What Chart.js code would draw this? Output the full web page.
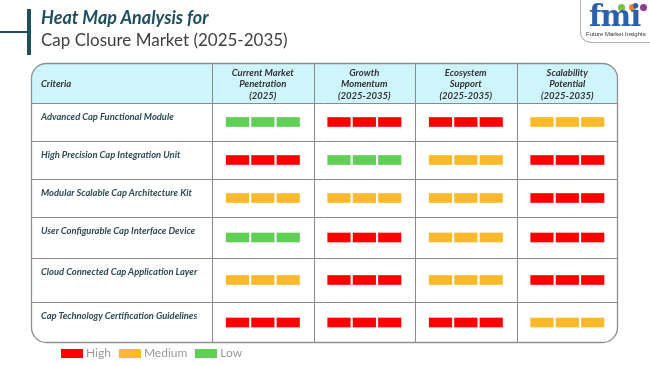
<!DOCTYPE html>
<html>
<head>
<meta charset="utf-8">
<script src="https://cdn.jsdelivr.net/npm/chart.js@4.4.1/dist/chart.umd.min.js"></script>
<style>
  html, body { margin: 0; padding: 0; background: #fff; }
  #wrap { position: relative; width: 650px; height: 365px; overflow: hidden; font-family: Lato, "Open Sans", sans-serif; }
  canvas { position: absolute; left: 0; top: 0; }
  .abs { position: absolute; white-space: nowrap; }
  #t1 { left: 41px; top: 6px; font-size: 18px; font-weight: 700; font-style: italic; color: #1e4f5f; }
  #t2 { left: 41px; top: 29px; font-size: 17px; color: #404040; }
  #vbar { left: 27px; top: 9px; width: 4px; height: 46px; background: #1e4f5f; }
  #hbar { left: 0; top: 31px; width: 28px; height: 2px; background: #1e4f5f; }
  #logo { right: 0; top: 0; width: 69px; height: 42px; border-left: 1px solid #b5b5b5; border-bottom: 1px solid #b5b5b5; border-bottom-left-radius: 11px; }
  #fmi { left: 8px; top: -1px; font-family: "DejaVu Serif", serif; font-weight: 700; font-size: 29px; color: #2b5fab; letter-spacing: -1px; }
  #fmisub { left: 5px; top: 31px; font-size: 6px; color: #333; font-family: "Liberation Sans", sans-serif; }
  .dot { position: absolute; width: 7px; height: 7px; border-radius: 50%; }
  .hdr { text-align: center; font-size: 9.5px; font-style: italic; font-weight: 700; color: #333; line-height: 11.5px; }
  .crit { font-size: 9.5px; font-style: italic; font-weight: 700; color: #333; }
  .row { font-size: 9.4px; font-style: italic; font-weight: 700; color: #2d4b54; }
  #legend { left: 61px; top: 345px; font-size: 12px; color: #999; }
  #legend span.item { display: inline-block; margin-right: 8px; }
  #legend span.box { display: inline-block; width: 22px; height: 9px; vertical-align: -1px; margin-right: 3px; }
</style>
</head>
<body>
<div id="wrap">
  <canvas id="c" width="650" height="365"></canvas>
  <div class="abs" id="hbar"></div>
  <div class="abs" id="vbar"></div>
  <div class="abs" id="t1">Heat Map Analysis for</div>
  <div class="abs" id="t2">Cap Closure Market (2025-2035)</div>
  <div class="abs" id="logo">
    <div class="dot" style="left:37px;top:4px;background:#7ac143"></div>
    <div class="dot" style="left:48px;top:4px;background:#f58220"></div>
    <div class="dot" style="left:59px;top:4px;background:#8e3a96"></div>
    <div class="abs" id="fmi">fmi</div>
    <div class="abs" id="fmisub">Future Market Insights</div>
  </div>
  <div class="abs" id="legend"></div>
</div>
<script>
// ---------------- data ----------------
const criteriaHeader = "Criteria";
const columnHeaders = [
  ["Current Market", "Penetration", "(2025)"],
  ["Growth", "Momentum", "(2025-2035)"],
  ["Ecosystem", "Support", "(2025-2035)"],
  ["Scalability", "Potential", "(2025-2035)"]
];
const criteria = [
  "Advanced Cap Functional Module",
  "High Precision Cap Integration Unit",
  "Modular Scalable Cap Architecture Kit",
  "User Configurable Cap Interface Device",
  "Cloud Connected Cap Application Layer",
  "Cap Technology Certification Guidelines"
];
const levels = ["High", "Medium", "Low"];
const currentMarketPenetration = ["Low", "High", "Medium", "Low", "Medium", "High"];
const growthMomentum          = ["High", "Low", "Medium", "High", "High", "High"];
const ecosystemSupport        = ["High", "Medium", "Medium", "Medium", "Medium", "High"];
const scalabilityPotential    = ["Medium", "High", "High", "High", "High", "Medium"];
const columns = [currentMarketPenetration, growthMomentum, ecosystemSupport, scalabilityPotential];

// ---------------- style / layout ----------------
const levelColors = { High: "#fe0000", Medium: "#fbb92c", Low: "#5fcf55" };
const rowHeights = [38, 38, 38, 41, 44, 41];   // layout (y units = px)
const HEADER_H = 40;
const CRIT_W = 181 / 101.5;                     // criteria column width in column units
const SEG_START = 0.14, SEG_STEP = 0.25, SEG_W = 0.222, SEGMENTS = 3;

const rowTops = [];
let acc = 0;
rowHeights.forEach(h => { rowTops.push(acc); acc += h; });
const TOTAL_H = acc;
const rowCenters = rowHeights.map((h, i) => rowTops[i] + h / 2);

const datasets = levels.map(level => {
  const data = [];
  columns.forEach((col, c) => {
    col.forEach((v, r) => {
      if (v !== level) return;
      for (let s = 0; s < SEGMENTS; s++) {
        const x0 = c + SEG_START + s * SEG_STEP;
        data.push({ x: [x0, x0 + SEG_W], y: rowCenters[r] });
      }
    });
  });
  return { label: level, data, backgroundColor: levelColors[level], borderWidth: 0, borderSkipped: false };
});

function roundRectPath(ctx, x, y, w, h, r) {
  ctx.beginPath();
  ctx.moveTo(x + r, y);
  ctx.lineTo(x + w - r, y);
  ctx.arcTo(x + w, y, x + w, y + r, r);
  ctx.lineTo(x + w, y + h - r);
  ctx.arcTo(x + w, y + h, x + w - r, y + h, r);
  ctx.lineTo(x + r, y + h);
  ctx.arcTo(x, y + h, x, y + h - r, r);
  ctx.lineTo(x, y + r);
  ctx.arcTo(x, y, x + r, y, r);
  ctx.closePath();
}

const tablePlugin = {
  id: "tableFrame",
  beforeDatasetsDraw(chart) {
    const { ctx, scales: { x, y } } = chart;
    const L = x.getPixelForValue(-CRIT_W), R = x.getPixelForValue(columns.length);
    const T = y.getPixelForValue(-HEADER_H), B = y.getPixelForValue(TOTAL_H);
    const H0 = y.getPixelForValue(0);
    const rad = 15;
    ctx.save();
    roundRectPath(ctx, L, T, R - L, B - T, rad);
    ctx.clip();
    ctx.fillStyle = "#cff5fc";
    ctx.fillRect(L, T, R - L, H0 - T);
    ctx.strokeStyle = "#8a8a8a";
    ctx.lineWidth = 1;
    ctx.beginPath();
    for (let c = 0; c < columns.length; c++) {
      const px = Math.round(x.getPixelForValue(c)) + 0.5;
      ctx.moveTo(px, T); ctx.lineTo(px, B);
    }
    rowTops.forEach(t => {
      const py = Math.round(y.getPixelForValue(t)) + 0.5;
      ctx.moveTo(L, py); ctx.lineTo(R, py);
    });
    ctx.stroke();
    ctx.restore();
    ctx.save();
    ctx.strokeStyle = "#8f8f8f";
    ctx.lineWidth = 1.3;
    roundRectPath(ctx, L + 0.5, T + 0.5, R - L - 1, B - T - 1, rad);
    ctx.stroke();
    ctx.restore();
  }
};

const chart = new Chart(document.getElementById("c"), {
  type: "bar",
  data: { datasets },
  options: {
    indexAxis: "y",
    responsive: false,
    animation: false,
    grouped: false,
    barThickness: 9,
    layout: { padding: { left: 31, right: 32, top: 63, bottom: 22 } },
    scales: {
      x: { type: "linear", min: -CRIT_W, max: columns.length, display: false, offset: false },
      y: { type: "linear", min: -HEADER_H, max: TOTAL_H, reverse: true, display: false, offset: false }
    },
    plugins: { legend: { display: false }, tooltip: { enabled: false } }
  },
  plugins: [tablePlugin]
});

// ---------------- text overlays positioned from the scales ----------------
const wrap = document.getElementById("wrap");
const xs = chart.scales.x, ys = chart.scales.y;
function addDiv(cls, html, style) {
  const d = document.createElement("div");
  d.className = "abs " + cls;
  d.innerHTML = html;
  Object.assign(d.style, style);
  wrap.appendChild(d);
  return d;
}
const hdrMid = (ys.getPixelForValue(-HEADER_H) + ys.getPixelForValue(0)) / 2;
addDiv("crit", criteriaHeader, { left: (xs.getPixelForValue(-CRIT_W) + 10) + "px", top: (hdrMid - 5) + "px" });
columnHeaders.forEach((lines, c) => {
  const l = xs.getPixelForValue(c), r = xs.getPixelForValue(c + 1);
  addDiv("hdr", lines.join("<br>"), { left: l + "px", width: (r - l) + "px", top: (hdrMid - 16.5) + "px" });
});
criteria.forEach((name, r) => {
  const top = ys.getPixelForValue(rowTops[r]);
  addDiv("row", name, { left: (xs.getPixelForValue(-CRIT_W) + 10) + "px", top: (top + 8) + "px" });
});
document.getElementById("legend").innerHTML = datasets.map(d =>
  '<span class="item"><span class="box" style="background:' + d.backgroundColor + '"></span>' + d.label + '</span>'
).join("");
</script>
</body>
</html>
